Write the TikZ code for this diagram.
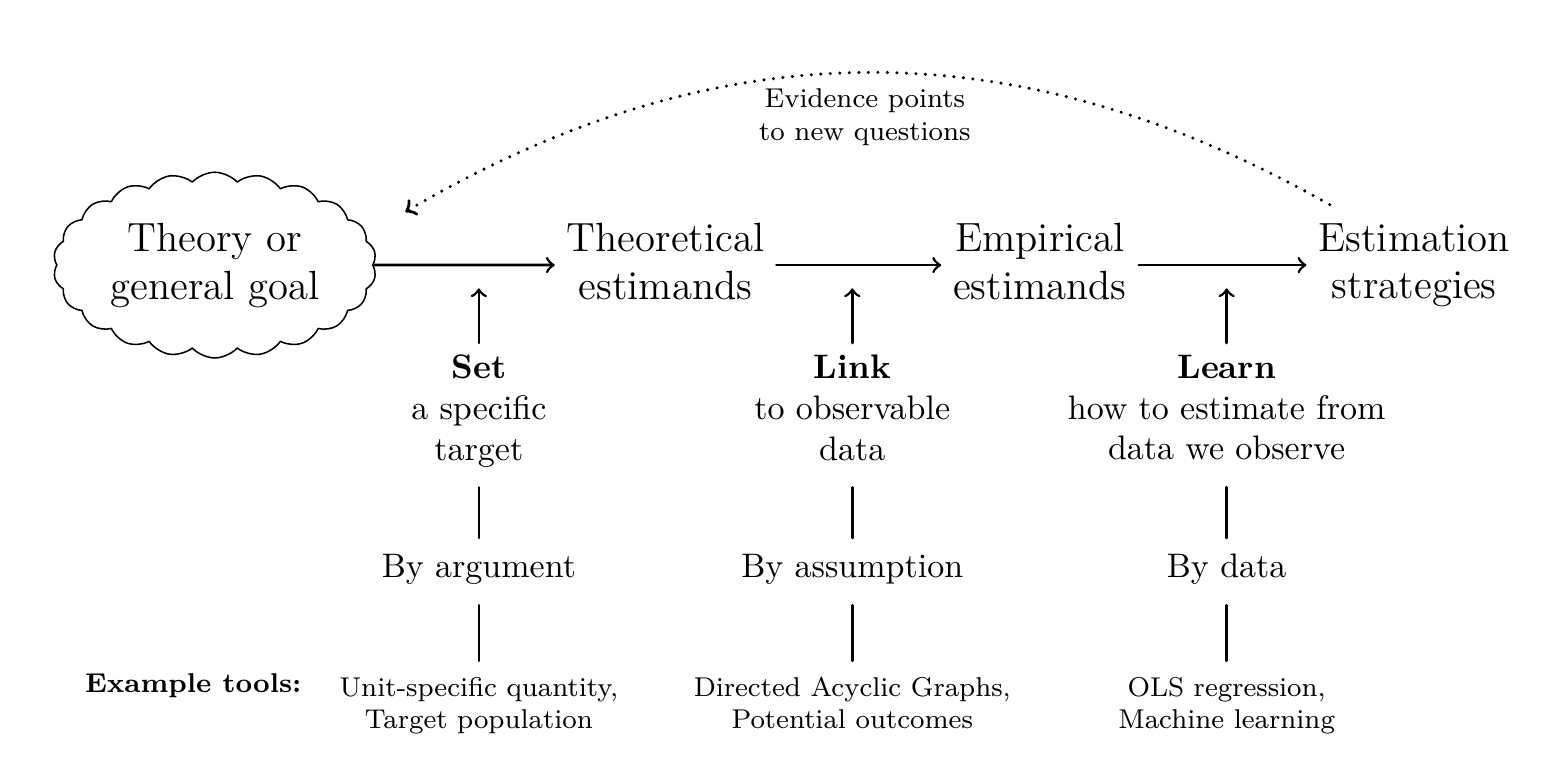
\documentclass[tikz,border=0pt]{standalone}
\usepackage{amssymb,amsmath}
\usetikzlibrary{shapes.symbols}

\begin{document}
\begin{tikzpicture}[line cap=round, line join=round]
	
	% ----------------------------
	% 0) Canvas box
	% ----------------------------
	\def\W{15.94} \def\H{8.10}
	\useasboundingbox (0,0) rectangle (\W,-\H);
	
	\tikzset{
		stage/.style={font=\large, align=center, text depth=2.3pt},
		task/.style={align=center, anchor=north, text depth=2pt},
		basis/.style={anchor=base, text height=7pt, text depth=2pt},
		tools/.style={font=\footnotesize, align=center, anchor=north},
		flow/.style={thick, ->},
		stem/.style={thick, shorten <=2.5pt, shorten >=1.2pt}
	}
	
	% ----------------------------
	% 1) Rows and columns
	% ----------------------------
	\def\xa{4.95} \def\xb{8.81} \def\xc{12.68}
	\def\yrow{-2.74}
	\def\ytip{-2.98}
	\def\ytask{-3.545}
	\def\ybasis{-5.974}
	\def\ytool{-6.873}
	
	% ----------------------------
	% 2) Main chain
	% ----------------------------
	\node[stage, draw, line width=0.45pt, cloud, cloud puffs=22, cloud puff arc=95, cloud ignores aspect,
	minimum width=3.34cm, minimum height=1.92cm, inner sep=0pt] (goal) at (2.22,\yrow) {Theory or\\general goal};
	\node[stage] (theo) at (6.88,\yrow) {Theoretical\\estimands};
	\node[stage] (emp) at (10.75,\yrow) {Empirical\\estimands};
	\node[stage] (strat) at (14.62,\yrow) {Estimation\\strategies};
	
	\draw[flow] (goal) -- (theo);
	\draw[flow] (theo) -- (emp);
	\draw[flow] (emp) -- (strat);
	
	% ----------------------------
	% 3) Feedback arc
	% ----------------------------
	\coordinate (back) at (4.19,-2.19);
	\draw[line width=1pt, dash pattern=on 0pt off 2.8pt, ->] ([xshift=0.24cm, yshift=0.07cm]strat.north west) to[bend right=30] (back);
	\node[font=\footnotesize, align=center] (evid) at (8.94,-1.21) {Evidence points\\to new questions};
	
	% ----------------------------
	% 4) Set / Link / Learn
	% ----------------------------
	\node[task] (set) at (\xa,\ytask) {\textbf{Set}\\a specific\\target};
	\node[task] (link) at (\xb,\ytask) {\textbf{Link}\\to observable\\data};
	\node[task] (learn) at (\xc,\ytask) {\textbf{Learn}\\how to estimate from\\data we observe};
	
	\coordinate (tipA) at (\xa,\ytip);
	\coordinate (tipB) at (\xb,\ytip);
	\coordinate (tipC) at (\xc,\ytip);
	\draw[flow] (set) -- (tipA);
	\draw[flow] (link) -- (tipB);
	\draw[flow] (learn) -- (tipC);
	
	% ----------------------------
	% 5) By ...
	% ----------------------------
	\node[basis] (byarg) at (\xa,\ybasis) {By argument};
	\node[basis] (byass) at (\xb,\ybasis) {By assumption};
	\node[basis] (bydata) at (\xc,\ybasis) {By data};
	
	\draw[stem] (set) -- (byarg);
	\draw[stem] (link) -- (byass);
	\draw[stem] (learn) -- (bydata);
	
	% ----------------------------
	% 6) Example tools
	% ----------------------------
	\node[font=\footnotesize\bfseries, anchor=base west] (extools) at (0.755,-7.163) {Example tools:};
	\node[tools] (toolA) at (\xa,\ytool) {Unit-specific quantity,\\Target population};
	\node[tools] (toolB) at (\xb,\ytool) {Directed Acyclic Graphs,\\Potential outcomes};
	\node[tools] (toolC) at (\xc,\ytool) {OLS regression,\\Machine learning};
	
	\draw[stem] (byarg) -- (toolA);
	\draw[stem] (byass) -- (toolB);
	\draw[stem] (bydata) -- (toolC);
	
\end{tikzpicture}
\end{document}
